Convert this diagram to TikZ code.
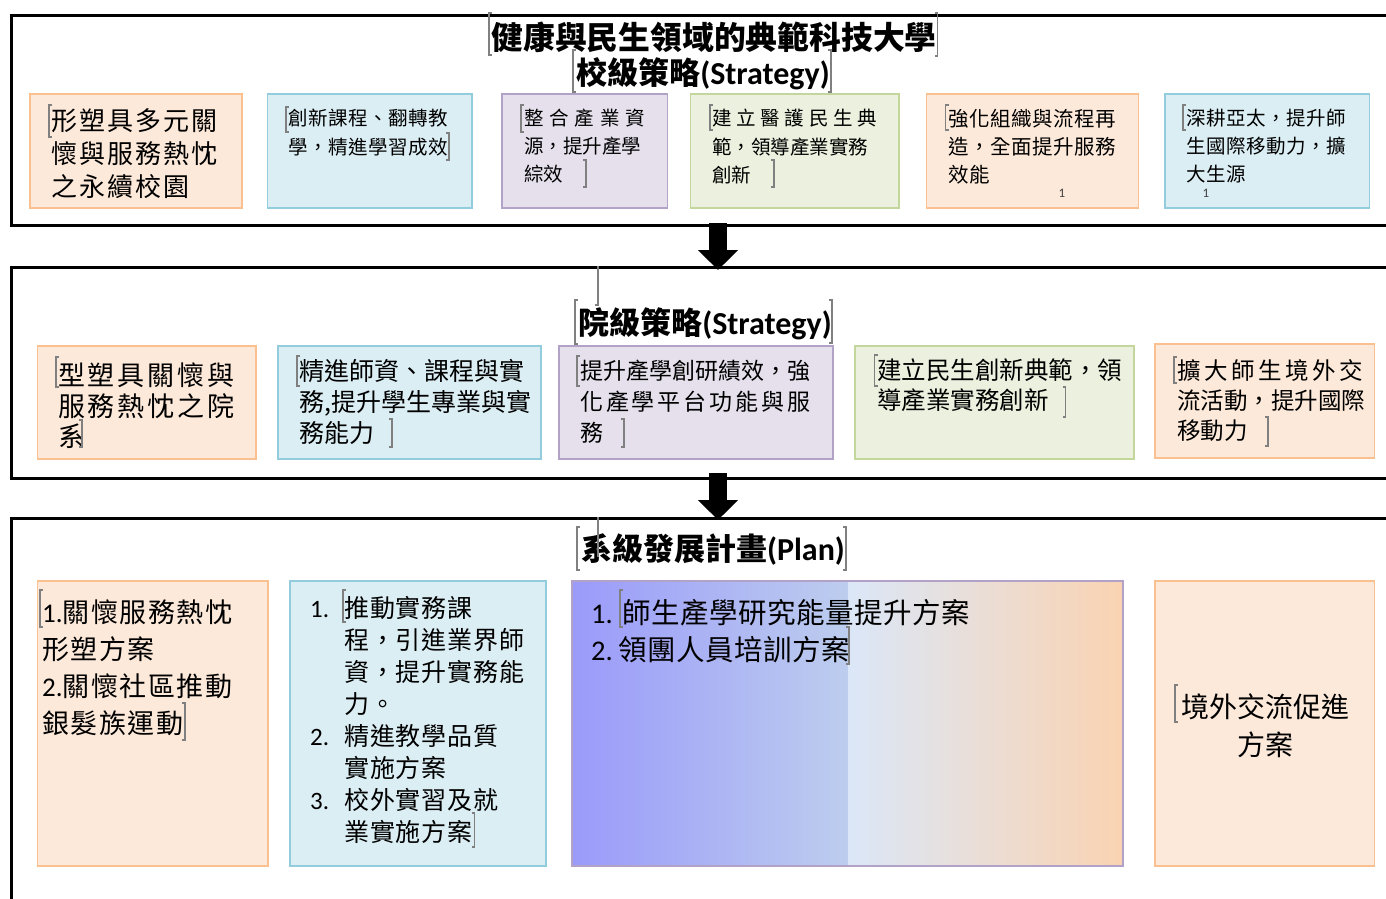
\documentclass[tikz,border=0pt]{standalone}
\usepackage{fontspec}
\setmainfont{Carlito}
\newfontfamily\cjk{Noto Sans CJK TC}
\newfontfamily\lat{Carlito}
\usetikzlibrary{arrows.meta}
\definecolor{orF}{HTML}{FDE9D9}
\definecolor{orD}{HTML}{FAC090}
\definecolor{blF}{HTML}{DBEEF4}
\definecolor{blD}{HTML}{93CDDD}
\definecolor{puF}{HTML}{E5E0EC}
\definecolor{puD}{HTML}{B3A2C7}
\definecolor{grF}{HTML}{EBF1DE}
\definecolor{grD}{HTML}{C3D69B}
\definecolor{gA}{HTML}{9A9AFA}
\definecolor{gB}{HTML}{BDCDEE}
\definecolor{gC}{HTML}{DBE7F8}
\definecolor{gD}{HTML}{E6E1E6}
\definecolor{gE}{HTML}{FAD3B2}
\definecolor{cmtc}{HTML}{808080}
\newcommand\spr[2]{\makebox[#1pt][s]{#2}}
\newcommand\cmL[3]{\draw[cmt] (#1,#2) ++(3,0) -- ++(-3,0) -- (#1,#3) -- ++(3,0);}
\newcommand\cmR[3]{\draw[cmt] (#1,#2) ++(-3,0) -- ++(3,0) -- (#1,#3) -- ++(-3,0);}
\begin{document}
\begin{tikzpicture}[x=1pt,y=-1pt,
  frame/.style={draw=black, line width=3pt, anchor=north west, inner sep=0},
  box/.style={line width=1.5pt, anchor=north west, inner sep=0},
  txt/.style={anchor=north west, inner sep=0, align=left},
  fs/.style 2 args={font=\cjk\fontsize{#1}{#2}\selectfont},
  fsl/.style n args={3}{font=\cjk\fontsize{#1}{#2}\selectfont\addfontfeature{LetterSpace=#3}},
  ttl/.style={inner sep=0, font=\cjk\bfseries\fontsize{31}{36}\selectfont},
  cmt/.style={draw=cmtc, line width=1.2pt},
  bigarrow/.style={line width=18pt, -{Triangle[length=20pt,width=39pt]}}]
\useasboundingbox (0,0) rectangle (1386,899);
\fill[white] (0,0) rectangle (1386,899);

% frames
\node[frame, minimum width=1390, minimum height=210] (f1) at (10,14) {};
\node[frame, minimum width=1390, minimum height=211] (f2) at (10,266) {};
\node[frame, minimum width=1390, minimum height=420] (f3) at (10,517) {};

% arrows
\coordinate (a1s) at (718,223);
\coordinate (a1e) at (718,270);
\coordinate (a2s) at (718,473);
\coordinate (a2e) at (718,520);
\draw[bigarrow] (a1s) -- (a1e);
\draw[bigarrow] (a2s) -- (a2e);

% titles
\node[ttl, font=\cjk\bfseries\fontsize{31.8}{36}\selectfont] (h1) at (714,37) {健康與民生領域的典範科技大學};
\node[ttl] (h2) at (703,74) {校級策略{\lat\bfseries\fontsize{32}{36}\selectfont(Strategy)}};
\node[ttl] (h3) at (705,324) {院級策略{\lat\bfseries\fontsize{32}{36}\selectfont(Strategy)}};
\node[ttl] (h4) at (713,550) {系級發展計畫{\lat\bfseries\fontsize{32}{36}\selectfont(Plan)}};

% top row boxes
\node[box, fill=orF, draw=orD, minimum width=212, minimum height=114] (t1) at (29,93) {};
\node[box, fill=blF, draw=blD, minimum width=204.5, minimum height=114] (t2) at (266.5,93) {};
\node[box, fill=puF, draw=puD, minimum width=165.5, minimum height=114] (t3) at (501,93) {};
\node[box, fill=grF, draw=grD, minimum width=208.5, minimum height=114] (t4) at (689.5,93) {};
\node[box, fill=orF, draw=orD, minimum width=212, minimum height=114] (t5) at (925.5,93) {};
\node[box, fill=blF, draw=blD, minimum width=204.5, minimum height=114] (t6) at (1164,93) {};

\node[txt, fsl={26}{33}{7.7}] (t1x) at (51,108) {形塑具多元關\\懷與服務熱忱\\之永續校園};
\node[txt, fsl={19.5}{29}{3}] (t2x) at (288,109) {創新課程、翻轉教\\學，精進學習成效};
\node[txt, fs={19.5}{28}] (t3x) at (524,109) {\spr{121}{整\hfil 合\hfil 產\hfil 業\hfil 資}\\源，提升產學\\綜效};
\node[txt, fs={19.5}{28.5}] (t4x) at (712,109) {\spr{165}{建\hfil 立\hfil 醫\hfil 護\hfil 民\hfil 生\hfil 典}\\範，領導產業實務\\創新};
\node[txt, fsl={20.5}{28}{2.5}] (t5x) at (948,109) {強化組織與流程再\\造，全面提升服務\\效能};
\node[txt, fsl={19.5}{28}{3}] (t6x) at (1186,109) {深耕亞太，提升師\\生國際移動力，擴\\大生源};
\node[inner sep=0, font=\lat\fontsize{13}{13}\selectfont, text=black!75] (t5n) at (1062,193) {1};
\node[inner sep=0, font=\lat\fontsize{13}{13}\selectfont, text=black!75] (t6n) at (1206,193) {1};

% middle row boxes
\node[box, fill=orF, draw=orD, minimum width=218.5, minimum height=113] (m1) at (36.5,345) {};
\node[box, fill=blF, draw=blD, minimum width=263, minimum height=113] (m2) at (277,345) {};
\node[box, fill=puF, draw=puD, minimum width=274, minimum height=113] (m3) at (558,345) {};
\node[box, fill=grF, draw=grD, minimum width=279, minimum height=113] (m4) at (854,345) {};
\node[box, fill=orF, draw=orD, minimum width=219.5, minimum height=114] (m5) at (1154,343) {};

\node[txt, fs={27}{30.5}] (m1x) at (58,363) {\spr{176}{型\hfil 塑\hfil 具\hfil 關\hfil 懷\hfil 與}\\\spr{176}{服\hfil 務\hfil 熱\hfil 忱\hfil 之\hfil 院}\\系};
\node[txt, fs={25}{31}] (m2x) at (299,359) {精進師資、課程與實\\務,提升學生專業與實\\務能力};
\node[txt, fs={23}{31}] (m3x) at (580,359.5) {\spr{230}{提\hfil 升\hfil 產\hfil 學\hfil 創\hfil 研\hfil 績\hfil 效\hfil ，\hfil 強}\\\spr{230}{化\hfil 產\hfil 學\hfil 平\hfil 台\hfil 功\hfil 能\hfil 與\hfil 服}\\務};
\node[txt, fs={24.5}{30}] (m4x) at (877,359) {建立民生創新典範，領\\導產業實務創新};
\node[txt, fs={23.5}{30}] (m5x) at (1177,359) {\spr{186}{擴\hfil 大\hfil 師\hfil 生\hfil 境\hfil 外\hfil 交}\\流活動，提升國際\\移動力};

% bottom row boxes
\node[box, fill=orF, draw=orD, minimum width=230.5, minimum height=285] (b1) at (36.5,580) {};
\node[box, fill=blF, draw=blD, minimum width=256, minimum height=285] (b2) at (289,580) {};
\shade[left color=gA, right color=gB] (571,580) rectangle (848,865);
\shade[left color=gC, middle color=gD, right color=gE] (848,580) rectangle (1122,865);
\node[box, draw=puD, minimum width=551, minimum height=285] (b3) at (571,580) {};
\node[box, fill=orF, draw=orD, minimum width=219.5, minimum height=285] (b4) at (1154,580) {};

\node[txt, fsl={27}{37}{5.5}] (b1x) at (42,599.5) {{\lat 1.}關懷服務熱忱\\形塑方案\\{\lat 2.}關懷社區推動\\銀髮族運動};
\node[txt, fsl={25}{32}{3.5}] (b2x) at (310,596.5) {\makebox[34pt][l]{\lat 1.}推動實務課\\\hspace*{34pt}程，引進業界師\\\hspace*{34pt}資，提升實務能\\\hspace*{34pt}力。\\\makebox[34pt][l]{\lat 2.}精進教學品質\\\hspace*{34pt}實施方案\\\makebox[34pt][l]{\lat 3.}校外實習及就\\\hspace*{34pt}業實施方案};
\node[txt, fsl={28.5}{37}{2}] (b3x) at (591,599) {\makebox[31pt][l]{\lat 1.}師生產學研究能量提升方案\\\makebox[27pt][l]{\lat 2.}領團人員培訓方案};
\node[anchor=north, inner sep=0, align=center, fs={28}{38}] (b4x) at (1265,694) {境外交流促進\\方案};

% comment markers
\cmL{489}{13}{55} \cmR{937.5}{13}{56} \cmL{573}{50}{92} \cmR{831}{50}{92}
\draw[cmt] (598,266) -- (598,305) -- ++(-3,0);
\cmL{575}{300}{344} \cmR{832}{300}{343}
\draw[cmt] (598,517) -- (598,557);
\cmL{577}{527}{570} \cmR{846}{527}{570}
\cmL{49}{105}{137}
\cmL{286}{107}{132} \cmR{449}{133}{160}
\cmL{521}{105}{132} \cmR{586}{160}{187}
\cmL{710}{105}{130} \cmR{774}{160}{187}
\cmL{945.5}{105}{130}
\cmL{1183}{105}{130}
\cmL{56}{357}{387} \cmR{82}{420}{447}
\cmL{297}{356}{386} \cmR{392}{419}{447}
\cmL{577}{356}{386} \cmR{624}{419}{447}
\cmL{874.5}{355}{386} \cmR{1065.5}{387}{417}
\cmL{1174}{357}{383} \cmR{1268}{417}{446}
\cmL{40}{590}{627} \cmR{185}{703}{740}
\cmL{343}{590}{622} \cmR{474.5}{813}{847}
\cmL{620}{590}{627} \cmR{849}{627}{664}
\cmL{1175}{685}{722}
\end{tikzpicture}
\end{document}
